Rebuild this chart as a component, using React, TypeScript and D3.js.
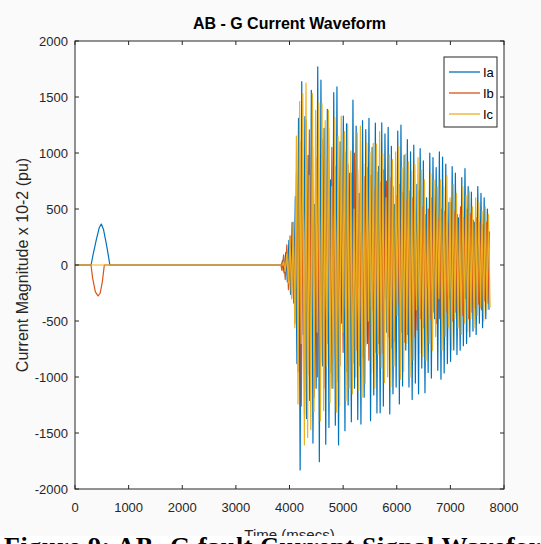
import React from "react";
import * as d3 from "d3";

// ---------- data ----------
const xTicks = [0, 1000, 2000, 3000, 4000, 5000, 6000, 7000, 8000];
const yTicks = [-2000, -1500, -1000, -500, 0, 500, 1000, 1500, 2000];
const seriesNames = ["Ia", "Ib", "Ic"];
const seriesColors = ["#0072BD", "#D95319", "#EDB120"];

// pre-fault part (time ms, value)
const iaPreTime = [0, 300, 340, 400, 450, 490, 530, 580, 620, 650, 3850];
const iaPreVals = [0, 0, 100, 230, 330, 366, 320, 200, 90, 0, 0];
const ibPreTime = [0, 298, 330, 380, 430, 470, 510, 547, 3840];
const ibPreVals = [0, 0, -120, -240, -277, -250, -150, 0, 0];
const icPreTime = [0, 3870];
const icPreVals = [0, 0];

// fault burst window (ms) for each phase
const iaBurstSpan = [3870, 7720];
const ibBurstSpan = [3860, 7730];
const icBurstSpan = [3890, 7740];

// successive extremes during the fault
const iaBurst = [
  40, -70, 110, -150, 220, -260, 380, -340,
  610, -880, 1310, -1830, 1637, -620, 1325, -1370, 980, -1210, 1560, -1590, 540, -1100, 1770, -1756, 1650, -900, 1220, -1600,
  1390, -1450, 760, -1100, 1540, -1430, 1590, -1607, 1100, -520, 1330, -1480, 1260, -1250,
  820, -1400, 1473, -1100, 1240, -1380, 640, -1420, 1290, -1180, 1210, -700, 1310, -1390, 1050, -1160,
  1268, -1321, 880, -1320, 1270, -1260, 1170, -600, 1230, -1330, 1060, -1150, 540, -1090, 1196, -1240, 1250, -1080, 980, -760, 1120, -1089, 1010, -1200,
  1071, -1054, 720, -1150, 1040, -920, 930, -1140, 600, -960, 1000, -1010, 960, -480, 870, -940, 1010, -1020,
  964, -964, 900, -880, 560, -860, 878, -759, 820, -800, 420, -760, 780, -720, 860, -700,
  700, -640, 650, -590, 380, -620, 700, -520, 640, -560, 600, -480, 500, -400,
];
const ibBurst = [
  -50, 90, -130, 180, -220, 260, -300, 380,
  -520, 820, -950, 1100, -1260, 600, -1340, 1295, -980, 1206, -400, 1050, -1180, 960, -1000, 500, -870, 1120, -1100, 990,
  -700, 1220, -960, 1050, -830, 880, -1040, 420, -900, 950, -780, 1010, -950, 900,
  -500, 820, -880, 1000, -760, 850, -900, 300, -820, 790, -720, 870, -850, 800, -400, 690,
  -780, 830, -700, 740, -790, 849, -300, 750, -640, 780, -740, 700, -680, 620, -350, 720, -600, 650, -690, 580, -620, 660, -540, 600,
  -640, 300, -580, 660, -480, 520, -560, 450, -200, 500, -480, 600, -420, 450, -520, 420, -480, 500,
  -450, 480, -420, 380, -300, 560, -500, 480, -420, 450, -380, 520, -450, 420, -300, 500,
  -480, 460, -420, 400, -380, 420, -350, 380, -400, 360, -320, 380, -340, 300,
];
const icBurst = [
  30, -60, 100, -160, 240, -300, 380, -560,
  1150, -1240, 1460, -700, 1530, -1607, 1625, -1540, 800, -1470, 1530, -1310, 1380, -600, 1450, -1390, 1440, -1300, 1290, -900,
  1380, -1230, 700, -1100, 1321, -1313, 1150, -1260, 1330, -600, 1190, -1210, 1260, -1100,
  1020, -1150, 500, -1000, 1180, -1120, 1240, -1180, 900, -1056, 1090, -500, 1010, -960, 1086, -1100,
  1080, -800, 1190, -920, 1000, -1050, 600, -997, 985, -1090, 940, -900, 1010, -450, 1060, -1020, 870, -950, 990, -700, 920, -1000, 840, -850,
  900, -400, 960, -790, 850, -820, 760, -850, 500, -700, 820, -760, 760, -640, 700, -300, 760, -760,
  700, -640, 800, -560, 600, -760, 720, -480, 640, -560, 450, -620, 700, -520, 620, -600,
  660, -480, 520, -560, 600, -450, 560, -380, 480, -500, 520, -400, 450, -380,
];

// ---------- layout ----------
const W = 541;
const H = 544;
const L = 75, R = 504, T = 41, B = 489;
const tickFont = "'Liberation Sans Narrow', 'Liberation Sans', Arial, sans-serif";
const labelFont = "'Liberation Sans', Arial, sans-serif";

function buildSeries(preT: number[], preV: number[], span: number[], burst: number[]) {
  const pts: [number, number][] = preT.map((t, i) => [t, preV[i]]);
  const times = d3.range(burst.length).map(
    (i) => span[0] + (i * (span[1] - span[0])) / (burst.length - 1)
  );
  burst.forEach((v, i) => pts.push([times[i], v]));
  return pts;
}

export default function App() {
  const x = d3.scaleLinear().domain([0, 8000]).range([L, R]);
  const y = d3.scaleLinear().domain([-2000, 2000]).range([B, T]);
  const line = d3
    .line<[number, number]>()
    .x((d) => x(d[0]))
    .y((d) => y(d[1]));

  const series = [
    buildSeries(iaPreTime, iaPreVals, iaBurstSpan, iaBurst),
    buildSeries(ibPreTime, ibPreVals, ibBurstSpan, ibBurst),
    buildSeries(icPreTime, icPreVals, icBurstSpan, icBurst),
  ];

  const tl = 4;
  const legX = 444, legY = 57, legW = 53, legH = 70;

  return (
    <div style={{ position: "absolute", left: 0, top: 0 }}>
      <svg width={W} height={H} style={{ display: "block" }}>
        <rect x={0} y={0} width={W} height={H} fill="#fafafa" />
        <rect x={L} y={T} width={R - L} height={B - T} fill="#ffffff" />

        <defs>
          <clipPath id="clip">
            <rect x={L} y={T} width={R - L} height={B - T} />
          </clipPath>
        </defs>
        {/* data */}
        <g clipPath="url(#clip)">
          {series.map((s, i) => (
            <path
              key={i}
              d={line(s) || ""}
              fill="none"
              stroke={seriesColors[i]}
              strokeWidth={1.2}
              strokeLinejoin="round"
            />
          ))}
        </g>

        {/* axes box and ticks */}
        <rect x={L} y={T} width={R - L} height={B - T} fill="none" stroke="#262626" strokeWidth={1} />
        {xTicks.map((t) => (
          <g key={"x" + t}>
            <line x1={x(t)} x2={x(t)} y1={B} y2={B - tl} stroke="#262626" />
            <line x1={x(t)} x2={x(t)} y1={T} y2={T + tl} stroke="#262626" />
            <text
              x={x(t)}
              y={B + 23}
              textAnchor="middle"
              fontFamily={tickFont}
              fontSize={13}
              fill="#262626"
            >
              {t}
            </text>
          </g>
        ))}
        {yTicks.map((t) => (
          <g key={"y" + t}>
            <line x1={L} x2={L + tl} y1={y(t)} y2={y(t)} stroke="#262626" />
            <line x1={R} x2={R - tl} y1={y(t)} y2={y(t)} stroke="#262626" />
            <text
              x={L - 7}
              y={y(t) + 5}
              textAnchor="end"
              fontFamily={tickFont}
              fontSize={13}
              fill="#262626"
            >
              {t}
            </text>
          </g>
        ))}

        {/* title */}
        <text
          x={(L + R) / 2}
          y={29}
          textAnchor="middle"
          fontFamily={tickFont}
          fontWeight="bold"
          fontSize={16}
          fill="#000"
        >
          AB - G Current Waveform
        </text>

        {/* y label */}
        <text
          transform={`translate(28, ${(T + B) / 2}) rotate(-90)`}
          textAnchor="middle"
          fontFamily={labelFont}
          fontSize={16}
          fill="#262626"
        >
          Current Magnitude x 10-2 (pu)
        </text>

        {/* x label */}
        <text
          x={(L + R) / 2}
          y={540}
          textAnchor="middle"
          fontFamily={labelFont}
          fontSize={15}
          fill="#262626"
        >
          Time (msecs)
        </text>

        {/* legend */}
        <rect x={legX} y={legY} width={legW} height={legH} fill="#fff" stroke="#262626" strokeWidth={1} />
        {seriesNames.map((n, i) => {
          const cy = legY + 15 + i * 21;
          return (
            <g key={n}>
              <line x1={legX + 5} x2={legX + 36} y1={cy} y2={cy} stroke={seriesColors[i]} strokeWidth={1.3} />
              <text x={legX + 39} y={cy + 5} fontFamily={tickFont} fontSize={13} fill="#000">
                {n}
              </text>
            </g>
          );
        })}

        {/* caption */}
        <rect x={0} y={536} width={W} height={H - 536} fill="#ffffff" />
        <text
          x={4}
          y={555}
          fontFamily="'Liberation Serif', 'Times New Roman', serif"
          fontWeight="bold"
          fontSize={26}
          letterSpacing={0.6}
          fill="#000"
        >
          Figure 9: AB- G fault Current Signal Waveform
        </text>
      </svg>
    </div>
  );
}
